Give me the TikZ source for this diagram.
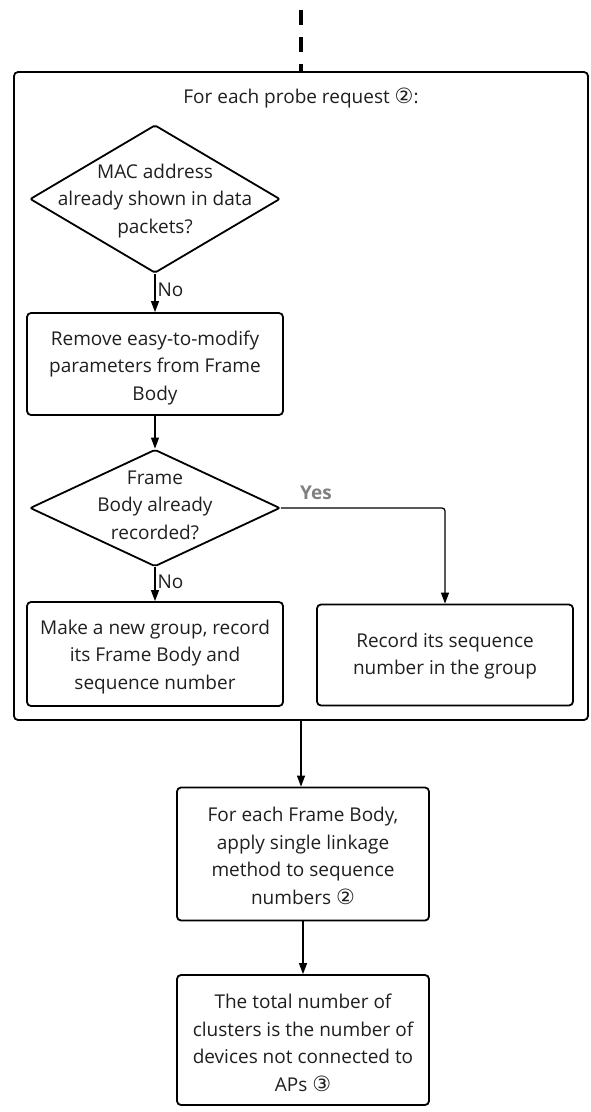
\documentclass[tikz,border=0pt]{standalone}
\usepackage{fontspec}
\setmainfont{Open Sans}
\newfontfamily\symf{DejaVu Sans}
\usetikzlibrary{arrows.meta,shapes.geometric}
\newcommand{\circnum}[1]{{\symf\fontsize{21}{21}\selectfont #1}}
\begin{document}
\begin{tikzpicture}[x=1pt,y=-1pt,
  txt/.style={font=\fontsize{19}{27.5}\selectfont, text=black!88, align=center, inner sep=0pt},
  procbox/.style={draw, line width=1.8pt, rounded corners=4pt, minimum width=256pt, minimum height=102pt, inner sep=0pt},
  decision/.style={draw, diamond, line width=1.8pt, rounded corners=2pt, minimum width=250pt, minimum height=148pt, inner sep=0pt},
  flow/.style={line width=1.3pt, -{Triangle[length=11pt,width=8pt]}},
  lbl/.style={font=\fontsize{19}{22}\selectfont, text=black!88, inner sep=0pt}
]
\useasboundingbox (0,0) rectangle (590,1112);

% outer container
\node[draw, line width=1.8pt, rounded corners=4pt, minimum width=574pt, minimum height=648pt, inner sep=0pt] (outer) at (301,396) {};
\coordinate (dtop) at (301,10);
\draw[line width=4.5pt, dash pattern=on 15pt off 12pt] (dtop) -- (outer.north);

\node[txt] (title) at (301,98) {For each probe request \circnum{②}:};

% decision 1
\node[decision] (d1) at (155,199) {};
\node[txt] (d1t) at (155,201) {MAC address\\already shown in data\\packets?};

% box 1
\node[procbox] (b1) at (155,364) {};
\node[txt] (b1t) at (155,368) {Remove easy-to-modify\\parameters from Frame\\Body};

% decision 2
\node[decision, minimum height=117pt] (d2) at (155,508) {};
\node[txt] (d2t) at (155,505) {Frame\\Body already\\recorded?};

% box 2 left
\node[procbox, minimum height=104pt] (b2) at (155,654) {};
\node[txt] (b2t) at (155,657) {Make a new group, record\\its Frame Body and\\sequence number};

% box 2 right
\node[procbox, minimum height=101pt] (b3) at (445,655) {};
\node[txt] (b3t) at (445,656) {Record its sequence\\number in the group};

% box 3
\node[procbox, minimum width=252pt, minimum height=133pt] (b4) at (303,854) {};
\node[txt] (b4t) at (303,856) {For each Frame Body,\\apply single linkage\\method to sequence\\numbers \circnum{②}};

% box 4
\node[procbox, minimum width=252pt, minimum height=130pt] (b5) at (303,1040) {};
\node[txt] (b5t) at (303,1043) {The total number of\\clusters is the number of\\devices not connected to\\APs \circnum{③}};

% connectors
\draw[flow] (d1.south) -- (b1.north) node[lbl, pos=0.42, anchor=west, xshift=2pt] {No};
\draw[flow] (b1.south) -- (d2.north);
\draw[flow] (d2.south) -- (b2.north) node[lbl, pos=0.42, anchor=west, xshift=2pt] {No};
\draw[flow, rounded corners=3pt] (d2.east) -- (b3.north |- d2.east) -- (b3.north);
\node[lbl, font=\fontsize{19}{20}\selectfont\bfseries, text=black!50] (yes) at (316,493) {Yes};
\draw[flow] (outer.south) -- (outer.south |- b4.north);
\draw[flow] (b4.south) -- (b5.north);
\end{tikzpicture}
\end{document}
